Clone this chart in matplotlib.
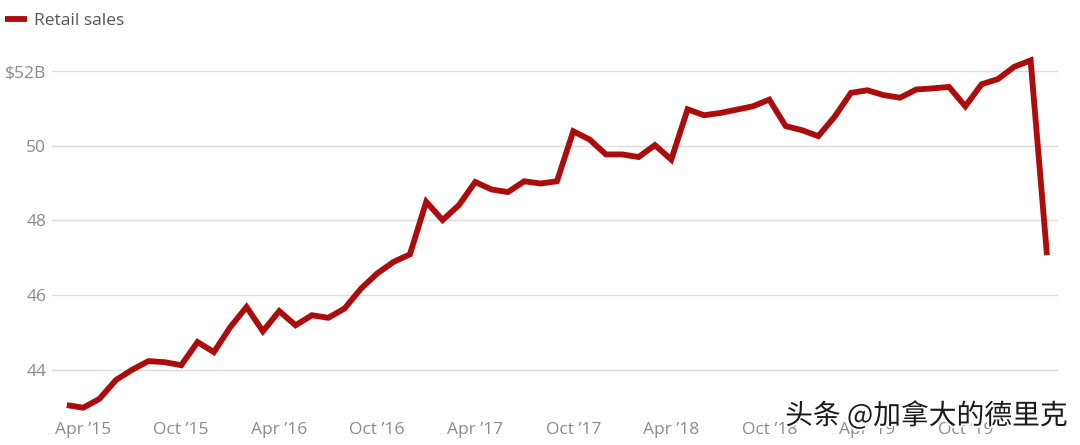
import matplotlib.pyplot as plt
import matplotlib.patheffects as pe

plt.rcParams['font.family'] = ['Open Sans', 'DejaVu Sans']

# monthly retail sales, Mar 2015 .. Mar 2020 (billions of dollars)
months = list(range(61))
sales = [
    43.05, 42.98, 43.22, 43.72, 44.00, 44.23, 44.20, 44.12, 44.74, 44.47,
    45.14, 45.68, 45.03, 45.57, 45.19, 45.46, 45.39, 45.64, 46.17, 46.58,
    46.89, 47.09, 48.50, 48.01, 48.41, 49.03, 48.83, 48.76, 49.05, 48.99,
    49.05, 50.39, 50.17, 49.77, 49.77, 49.70, 50.02, 49.63, 50.98, 50.82,
    50.88, 50.97, 51.06, 51.24, 50.53, 50.42, 50.26, 50.78, 51.42, 51.49,
    51.36, 51.29, 51.51, 51.54, 51.58, 51.06, 51.65, 51.79, 52.12, 52.29,
    47.07,
]
tick_pos = [1, 7, 13, 19, 25, 31, 37, 43, 49, 55]
tick_labels = ["Apr \u201915", "Oct \u201915", "Apr \u201916", "Oct \u201916", "Apr \u201917",
               "Oct \u201917", "Apr \u201918", "Oct \u201918", "Apr \u201919", "Oct \u201919"]
y_ticks = [44, 46, 48, 50, 52]
y_labels = ["44", "46", "48", "50", "$52B"]

fig = plt.figure(figsize=(10.8, 4.45), dpi=100)
ax = fig.add_axes([0.048, 0.067, 0.932, 0.809])

ax.plot(months, sales, color='#ad0c0c', lw=4.2, solid_joinstyle='miter',
        solid_capstyle='butt', label='Retail sales', zorder=3)

ax.set_xlim(-0.92, 60.7)
ax.set_ylim(42.78, 52.43)
ax.set_yticks(y_ticks)
ax.set_yticklabels(y_labels)
ax.set_xticks(tick_pos)
ax.set_xticklabels(tick_labels)
ax.grid(axis='y', color='#dcdcdc', lw=1)
ax.tick_params(length=0, labelsize=12.5, labelcolor='#8a8a8a')
ax.tick_params(axis='y', pad=4)
ax.tick_params(axis='x', pad=5)
for s in ax.spines.values():
    s.set_visible(False)

fig.legend(loc='center left', bbox_to_anchor=(5 / 1080, 1 - 21 / 445), frameon=False,
           fontsize=12.5, handlelength=1.27, handletextpad=0.4, borderpad=0,
           borderaxespad=0, labelcolor='#555555')

fig.text(0.727, 0.065, "头条 @加拿大的德里克", fontsize=20,
         family=['Noto Sans CJK SC', 'DejaVu Sans'], color='#1a1a1a',
         va='center', path_effects=[pe.withStroke(linewidth=3, foreground='white')])

fig.savefig('out.png', dpi=100, facecolor='white')
